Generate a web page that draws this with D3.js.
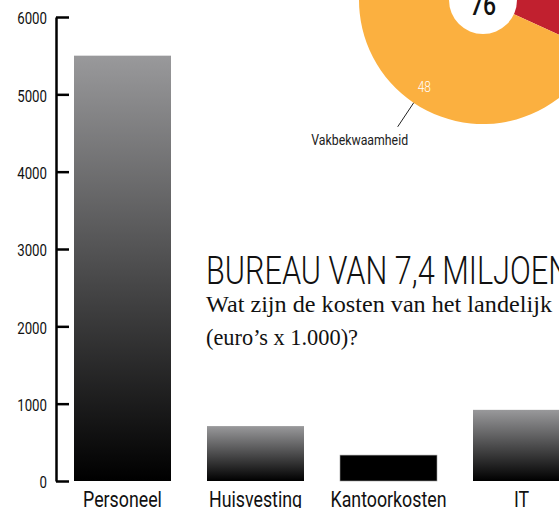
<!DOCTYPE html>
<html>
<head>
<meta charset="utf-8">
<script src="https://cdn.jsdelivr.net/npm/d3@7"></script>
<style>
  body { margin: 0; background: #fff; }
  svg { display: block; }
</style>
</head>
<body>
<div id="chart"></div>
<script>
// bar chart data (euro's x 1.000)
const categories = ['Personeel', 'Huisvesting', 'Kantoorkosten', 'IT'];
const costs = [5500, 710, 335, 920];
const yTicks = [0, 1000, 2000, 3000, 4000, 5000, 6000];

// donut (partly visible top right)
const donutLabels = ['Overig', 'Vakbekwaamheid'];
const donutValues = [28, 48];
const donutColors = ['#c1202f', '#fbb040'];
const donutTotal = '76';

const titleText = 'BUREAU VAN 7,4 MILJOEN';
const subtitleLines = ['Wat zijn de kosten van het landelijk', '(euro\u2019s x 1.000)?'];

const width = 559, height = 508;
const sans = "Roboto, 'DejaVu Sans', sans-serif";

const svg = d3.select('#chart').append('svg')
  .attr('width', width)
  .attr('height', height);

// squeeze a group of texts horizontally by the same factor
function squeeze(sel, factor) {
  sel.each(function() {
    const w = this.getComputedTextLength();
    d3.select(this).attr('textLength', w * factor).attr('lengthAdjust', 'spacingAndGlyphs');
  });
}

const defs = svg.append('defs');
const grad = defs.append('linearGradient')
  .attr('id', 'barGrad')
  .attr('x1', 0).attr('y1', 0).attr('x2', 0).attr('y2', 1);
grad.append('stop').attr('offset', '0%').attr('stop-color', '#99999b');
grad.append('stop').attr('offset', '100%').attr('stop-color', '#000');

const x = d3.scaleBand()
  .domain(categories)
  .range([74, 570])
  .paddingInner(0.2707)
  .paddingOuter(0);

const y = d3.scaleLinear()
  .domain([0, 6000])
  .range([481, 17]);

// donut
const pie = d3.pie().sort(null).startAngle(-18 * Math.PI / 180).endAngle(342 * Math.PI / 180);
const arcs = pie(donutValues);
const arc = d3.arc().innerRadius(0).outerRadius(124);
const donut = svg.append('g').attr('transform', 'translate(483,0)');

donut.selectAll('path')
  .data(arcs)
  .enter().append('path')
  .attr('d', arc)
  .attr('fill', (d, i) => donutColors[i]);

donut.append('circle').attr('r', 34).attr('fill', '#fff');
const totalText = donut.append('text')
  .attr('y', 15)
  .attr('text-anchor', 'middle')
  .style('font-family', sans)
  .style('font-weight', '500')
  .style('font-size', '27px')
  .attr('fill', '#111')
  .text(donutTotal);
squeeze(totalText, 0.85);

// value label and leader line for the orange slice
const orange = arcs[1];
const span = orange.endAngle - orange.startAngle;
const labelAngle = orange.startAngle + 0.437 * span;
const lp = d3.arc().innerRadius(105).outerRadius(105).startAngle(labelAngle).endAngle(labelAngle).centroid();
const valText = donut.append('text')
  .attr('x', lp[0]).attr('y', lp[1] + 5)
  .attr('text-anchor', 'middle')
  .style('font-family', sans)
  .style('font-weight', '300')
  .style('font-size', '14px')
  .attr('fill', '#fff')
  .text(donutValues[1]);
squeeze(valText, 0.85);

const p1 = d3.arc().innerRadius(124).outerRadius(124).startAngle(labelAngle).endAngle(labelAngle).centroid();
donut.append('line')
  .attr('x1', p1[0]).attr('y1', p1[1])
  .attr('x2', p1[0] - 16).attr('y2', p1[1] + 24)
  .attr('stroke', '#222')
  .attr('stroke-width', 1);

const nameText = donut.append('text')
  .attr('x', p1[0] - 54).attr('y', p1[1] + 42)
  .attr('text-anchor', 'middle')
  .style('font-family', sans)
  .style('font-size', '15px')
  .attr('fill', '#222')
  .text(donutLabels[1]);
squeeze(nameText, 0.82);

// bars
svg.append('g')
  .selectAll('rect')
  .data(categories)
  .enter().append('rect')
  .attr('x', d => x(d))
  .attr('y', (d, i) => y(costs[i]))
  .attr('width', x.bandwidth())
  .attr('height', (d, i) => y(0) - y(costs[i]))
  .attr('fill', d => d === 'Kantoorkosten' ? '#000' : 'url(#barGrad)')
  .attr('stroke', d => d === 'Kantoorkosten' ? '#999' : 'none')
  .attr('stroke-width', 0.6);

// y axis
const yAxis = svg.append('g')
  .attr('transform', 'translate(56,0)')
  .call(d3.axisLeft(y).tickValues(yTicks).tickSizeInner(-13).tickSizeOuter(0).tickPadding(9).tickFormat(d3.format('d')));
yAxis.select('.domain').attr('stroke', '#000').attr('stroke-width', 2.5);
yAxis.selectAll('.tick line').attr('stroke', '#000').attr('stroke-width', 2.5);
const tickTexts = yAxis.selectAll('.tick text')
  .style('font-family', sans)
  .style('font-size', '17px')
  .attr('fill', '#111')
  .attr('dy', '0.4em');
squeeze(tickTexts, 0.78);

// category labels
const catTexts = svg.append('g')
  .selectAll('text')
  .data(categories)
  .enter().append('text')
  .attr('x', d => x(d) + x.bandwidth() / 2)
  .attr('y', 507)
  .attr('text-anchor', 'middle')
  .style('font-family', sans)
  .style('font-size', '22px')
  .attr('fill', '#111')
  .text(d => d);
squeeze(catTexts, 116 / catTexts.filter(d => d === 'Kantoorkosten').node().getComputedTextLength());

// title
const title = svg.append('text')
  .attr('x', 206)
  .attr('y', 284)
  .style('font-family', sans)
  .style('font-weight', '300')
  .style('font-size', '39px')
  .attr('fill', '#111')
  .text(titleText);
squeeze(title, 364 / title.node().getComputedTextLength());

const subWidths = [346, 152];
svg.append('g')
  .selectAll('text')
  .data(subtitleLines)
  .enter().append('text')
  .attr('x', 206)
  .attr('y', (d, i) => 312 + i * 33)
  .style('font-family', "'Liberation Serif', 'DejaVu Serif', serif")
  .style('font-size', '23px')
  .attr('fill', '#111')
  .attr('textLength', (d, i) => subWidths[i])
  .attr('lengthAdjust', 'spacingAndGlyphs')
  .text(d => d);
</script>
</body>
</html>
